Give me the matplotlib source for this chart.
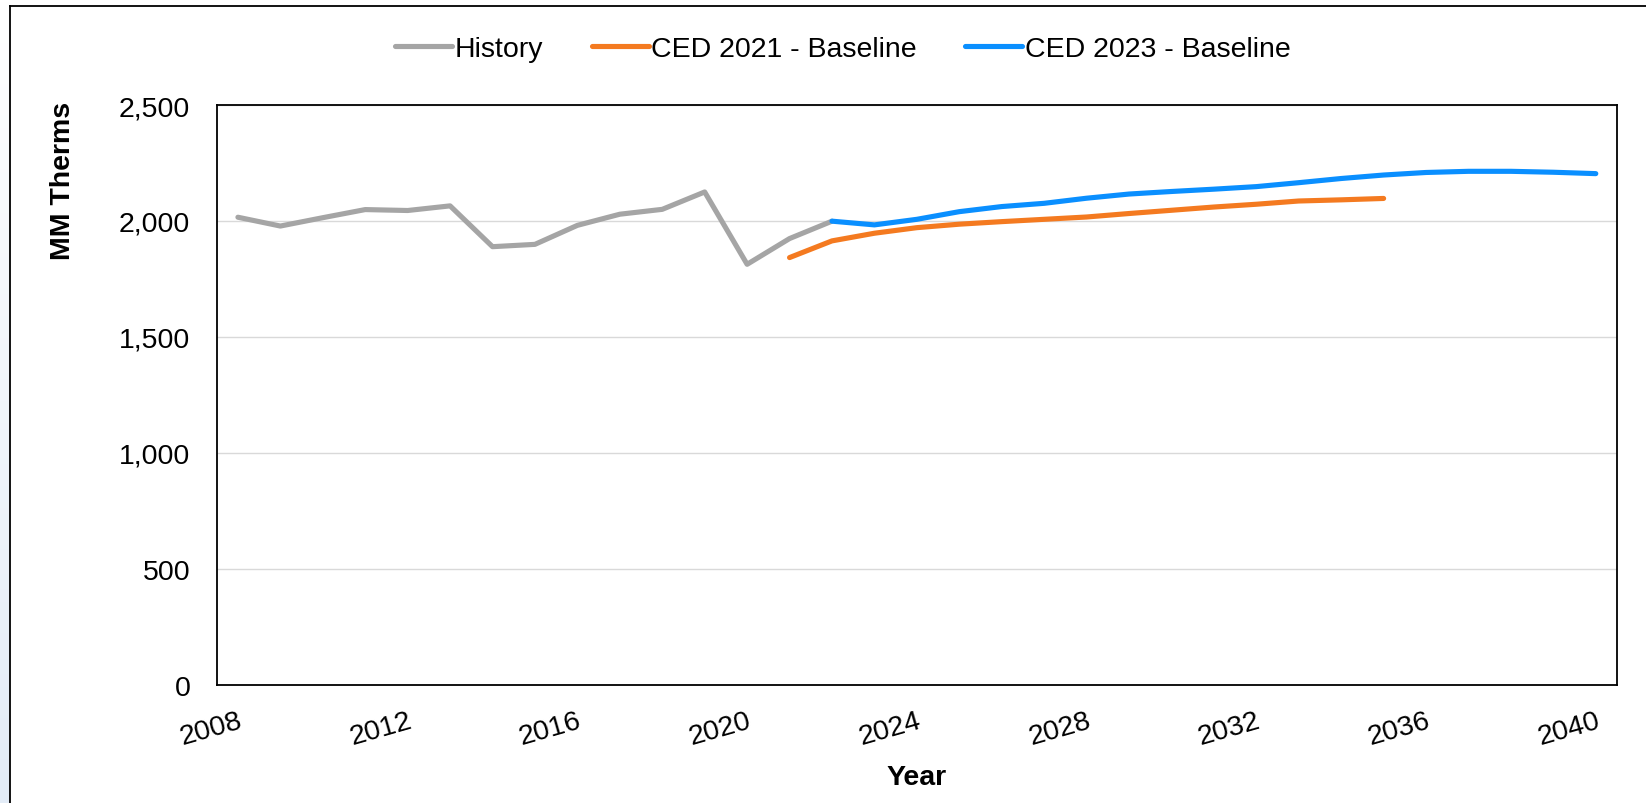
import numpy as np
import matplotlib
matplotlib.use("Agg")
import matplotlib.pyplot as plt
from matplotlib.lines import Line2D
from matplotlib.ticker import FuncFormatter
from matplotlib.colors import LinearSegmentedColormap

plt.rcParams['font.family'] = ['Liberation Sans', 'DejaVu Sans']

# ---- data ----
hist_years = list(range(2008, 2023))
hist_vals = [2016, 1978, 2014, 2049, 2045, 2065, 1889, 1899, 1981, 2029,
             2050, 2125, 1813, 1924, 1999]

ced21_years = list(range(2021, 2036))
ced21_vals = [1842, 1914, 1947, 1971, 1986, 1997, 2007, 2017, 2032, 2046,
              2060, 2072, 2086, 2091, 2097]

ced23_years = list(range(2022, 2041))
ced23_vals = [1999, 1983, 2007, 2040, 2062, 2076, 2098, 2116, 2127, 2137,
              2148, 2165, 2183, 2198, 2209, 2214, 2214, 2210, 2204]

series_names = ["History", "CED 2021 - Baseline", "CED 2023 - Baseline"]
series_colors = ["#A5A5A5", "#F47A20", "#0A8FFF"]
x_ticks = list(range(2008, 2041, 4))
y_ticks = [0, 500, 1000, 1500, 2000, 2500]

W, H = 1646, 804
fig = plt.figure(figsize=(W / 100, H / 100), dpi=100)
fig.patch.set_facecolor("white")

# left light-blue strip (background outside the chart frame)
strip = fig.add_axes([0, 0, 9.5 / W, 1])
grad = np.linspace(0, 1, 256).reshape(-1, 1)
cmap = LinearSegmentedColormap.from_list("s", ["#e3ecf7", "#ffffff"])
strip.imshow(grad, aspect="auto", cmap=cmap, extent=[0, 1, 0, 1], origin="lower")
strip.set_axis_off()

# chart frame lines (left and top)
fig.add_artist(Line2D([10 / W, 10 / W], [0, 1 - 7 / H], transform=fig.transFigure,
                      color="black", lw=1.3))
fig.add_artist(Line2D([10 / W, 1], [1 - 7 / H, 1 - 7 / H], transform=fig.transFigure,
                      color="black", lw=1.3))

left, right = 216.7 / W, 1617 / W
bottom, top = 1 - 685.7 / H, 1 - 106 / H
ax = fig.add_axes([left, bottom, right - left, top - bottom])

lw = 3.7
data = [(hist_years, hist_vals), (ced21_years, ced21_vals), (ced23_years, ced23_vals)]
handles = []
for (xs, ys), name, col in zip(data, series_names, series_colors):
    h, = ax.plot(xs, ys, color=col, lw=lw, solid_capstyle="round",
                 solid_joinstyle="round", label=name, zorder=3)
    handles.append(h)

ax.set_xlim(2007.5, 2040.5)
ax.set_ylim(0, 2500)
ax.set_yticks(y_ticks)
ax.yaxis.set_major_formatter(FuncFormatter(lambda v, p: f"{int(v):,}"))
ax.set_xticks(x_ticks)
ax.set_xticklabels([str(x) for x in x_ticks])
ax.grid(axis="y", color="#D9D9D9", lw=1.0, zorder=0)
ax.set_axisbelow(True)
for s in ax.spines.values():
    s.set_color("black")
    s.set_linewidth(1.3)

fs = 20.5
ax.tick_params(axis="both", length=0, labelsize=fs, colors="black")
ax.tick_params(axis="y", pad=19)
ax.tick_params(axis="x", pad=16)
for lab in ax.get_xticklabels():
    lab.set_rotation(16)
    lab.set_ha("right")
    lab.set_va("top")
    lab.set_rotation_mode("anchor")

fig.text(63 / W, 1 - 181 / H, "MM Therms", rotation=90, ha="center", va="center",
         fontsize=fs, fontweight="bold")
fig.text(917 / W, 1 - 778 / H, "Year", ha="center", va="center",
         fontsize=fs, fontweight="bold")

fig.legend(handles=handles, loc="center", bbox_to_anchor=(843 / W, 1 - 50 / H),
           ncol=3, frameon=False, fontsize=fs, handlelength=2.0,
           handletextpad=0.1, columnspacing=1.7, borderaxespad=0)

fig.savefig("out.png", dpi=100, facecolor="white")
